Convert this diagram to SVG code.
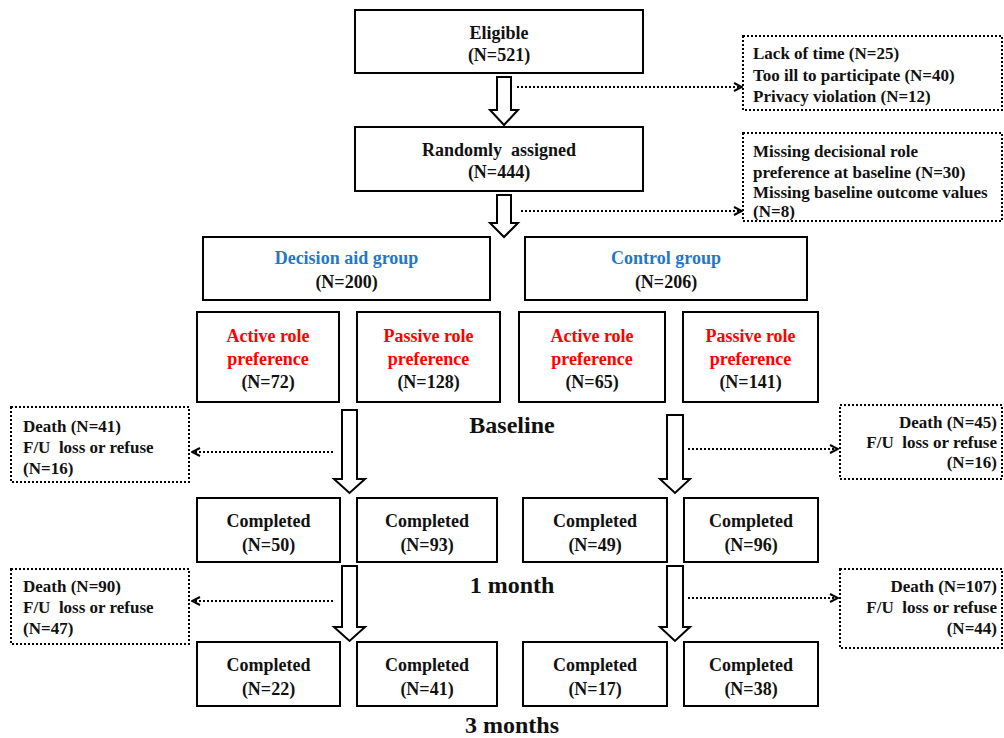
<svg xmlns="http://www.w3.org/2000/svg" width="1004" height="738" viewBox="0 0 1004 738">
<defs>
<style>
.box{fill:#fff;stroke:#000;stroke-width:2}
.dbox{fill:#fff;stroke:#000;stroke-width:2;stroke-dasharray:2 2}
.barrow{fill:#fff;stroke:#000;stroke-width:2;stroke-linejoin:miter}
.dline{fill:none;stroke:#000;stroke-width:2;stroke-dasharray:2 2}
text{font-family:"Liberation Serif","Times New Roman",serif;font-weight:bold;fill:#111}
.t18{font-size:18px;text-anchor:middle}
.t17{font-size:17px}
.big{font-size:24px;text-anchor:middle}
.blue{fill:#1f78c8}
.red{fill:#ff0000}
.end{text-anchor:end}
</style>
<marker id="chev" viewBox="0 0 10 10" refX="9" refY="5" markerWidth="10" markerHeight="10" markerUnits="userSpaceOnUse" orient="auto">
<path d="M1,1 L9,5 L1,9" fill="none" stroke="#000" stroke-width="2"/>
</marker>
</defs>
<rect width="1004" height="738" fill="#fff"/>

<g id="connectors">
<path class="barrow" d="M497,77 H511 V110 H518 L504,125 L490,110 H497 Z"/>
<path class="barrow" d="M497,195 H511 V223 H518 L504,237 L490,223 H497 Z"/>
<path class="barrow" d="M342,410 H357 V479 H365 L349.5,493 L334,479 H342 Z"/>
<path class="barrow" d="M667,415 H683 V479 H690 L675,493 L660,479 H667 Z"/>
<path class="barrow" d="M342,566 H357 V627 H365 L349.5,641 L334,627 H342 Z"/>
<path class="barrow" d="M667,566 H683 V627 H690 L675,641 L660,627 H667 Z"/>
<line class="dline" x1="517" y1="87" x2="742" y2="87" marker-end="url(#chev)"/>
<line class="dline" x1="521" y1="211" x2="742" y2="211" marker-end="url(#chev)"/>
<line class="dline" x1="333" y1="452" x2="192" y2="452" marker-end="url(#chev)"/>
<line class="dline" x1="333" y1="601" x2="192" y2="601" marker-end="url(#chev)"/>
<line class="dline" x1="688" y1="449" x2="838" y2="449" marker-end="url(#chev)"/>
<line class="dline" x1="688" y1="598" x2="838" y2="598" marker-end="url(#chev)"/>
</g>

<g id="eligible">
<rect class="box" x="355" y="10" width="288" height="63"/>
<text class="t18" x="499" y="39">Eligible</text>
<text class="t18" x="499" y="61">(N=521)</text>
</g>

<g id="randomized">
<rect class="box" x="355" y="127" width="288" height="64"/>
<text class="t18" x="499" y="156" xml:space="preserve">Randomly  assigned</text>
<text class="t18" x="499" y="178">(N=444)</text>
</g>

<g id="excluded1">
<rect class="dbox" x="743" y="36" width="259" height="74"/>
<text class="t17" x="753" y="59">Lack of time (N=25)</text>
<text class="t17" x="753" y="81">Too ill to participate (N=40)</text>
<text class="t17" x="753" y="102">Privacy violation (N=12)</text>
</g>

<g id="excluded2">
<rect class="dbox" x="743" y="133" width="259" height="88"/>
<text class="t17" x="753" y="157">Missing decisional role</text>
<text class="t17" x="753" y="178">preference at baseline (N=30)</text>
<text class="t17" x="753" y="198">Missing baseline outcome values</text>
<text class="t17" x="753" y="217">(N=8)</text>
</g>

<g id="decision-aid">
<rect class="box" x="203" y="237" width="287" height="63"/>
<text class="t18 blue" x="346.5" y="264">Decision aid group</text>
<text class="t18" x="346.5" y="288">(N=200)</text>
</g>

<g id="control">
<rect class="box" x="525" y="237" width="282" height="63"/>
<text class="t18 blue" x="666" y="264">Control group</text>
<text class="t18" x="666" y="288">(N=206)</text>
</g>

<g id="da-active">
<rect class="box" x="197" y="312" width="142" height="90"/>
<text class="t18 red" x="268" y="342">Active role</text>
<text class="t18 red" x="268" y="365">preference</text>
<text class="t18" x="268" y="388">(N=72)</text>
</g>

<g id="da-passive">
<rect class="box" x="357" y="312" width="143" height="90"/>
<text class="t18 red" x="428.5" y="342">Passive role</text>
<text class="t18 red" x="428.5" y="365">preference</text>
<text class="t18" x="428.5" y="388">(N=128)</text>
</g>

<g id="c-active">
<rect class="box" x="519" y="312" width="146" height="90"/>
<text class="t18 red" x="592" y="342">Active role</text>
<text class="t18 red" x="592" y="365">preference</text>
<text class="t18" x="592" y="388">(N=65)</text>
</g>

<g id="c-passive">
<rect class="box" x="683" y="312" width="135" height="90"/>
<text class="t18 red" x="750.5" y="342">Passive role</text>
<text class="t18 red" x="750.5" y="365">preference</text>
<text class="t18" x="750.5" y="388">(N=141)</text>
</g>

<g id="label-baseline"><text class="big" x="512" y="433">Baseline</text></g>

<g id="loss-da-1">
<rect class="dbox" x="11" y="407" width="178" height="75"/>
<text class="t17" x="23" y="432">Death (N=41)</text>
<text class="t17" x="23" y="453" xml:space="preserve">F/U  loss or refuse</text>
<text class="t17" x="23" y="474">(N=16)</text>
</g>

<g id="loss-c-1">
<rect class="dbox" x="840" y="405" width="162" height="74"/>
<text class="t17 end" x="997" y="428">Death (N=45)</text>
<text class="t17 end" x="997" y="448" xml:space="preserve">F/U  loss or refuse</text>
<text class="t17 end" x="997" y="468">(N=16)</text>
</g>

<g id="m1-da-active">
<rect class="box" x="197" y="498" width="143" height="64"/>
<text class="t18" x="268.5" y="527">Completed</text>
<text class="t18" x="268.5" y="551">(N=50)</text>
</g>
<g id="m1-da-passive">
<rect class="box" x="357" y="498" width="140" height="64"/>
<text class="t18" x="427" y="527">Completed</text>
<text class="t18" x="427" y="551">(N=93)</text>
</g>
<g id="m1-c-active">
<rect class="box" x="523" y="498" width="144" height="64"/>
<text class="t18" x="595" y="527">Completed</text>
<text class="t18" x="595" y="551">(N=49)</text>
</g>
<g id="m1-c-passive">
<rect class="box" x="684" y="498" width="134" height="64"/>
<text class="t18" x="751" y="527">Completed</text>
<text class="t18" x="751" y="551">(N=96)</text>
</g>

<g id="label-1month"><text class="big" x="512" y="593">1 month</text></g>

<g id="loss-da-2">
<rect class="dbox" x="11" y="569" width="178" height="75"/>
<text class="t17" x="23" y="592">Death (N=90)</text>
<text class="t17" x="23" y="613" xml:space="preserve">F/U  loss or refuse</text>
<text class="t17" x="23" y="634">(N=47)</text>
</g>

<g id="loss-c-2">
<rect class="dbox" x="840" y="569" width="162" height="79"/>
<text class="t17 end" x="997" y="592">Death (N=107)</text>
<text class="t17 end" x="997" y="613" xml:space="preserve">F/U  loss or refuse</text>
<text class="t17 end" x="997" y="634">(N=44)</text>
</g>

<g id="m3-da-active">
<rect class="box" x="197" y="642" width="143" height="64"/>
<text class="t18" x="268.5" y="671">Completed</text>
<text class="t18" x="268.5" y="695">(N=22)</text>
</g>
<g id="m3-da-passive">
<rect class="box" x="357" y="642" width="140" height="64"/>
<text class="t18" x="427" y="671">Completed</text>
<text class="t18" x="427" y="695">(N=41)</text>
</g>
<g id="m3-c-active">
<rect class="box" x="523" y="642" width="144" height="64"/>
<text class="t18" x="595" y="671">Completed</text>
<text class="t18" x="595" y="695">(N=17)</text>
</g>
<g id="m3-c-passive">
<rect class="box" x="684" y="642" width="134" height="64"/>
<text class="t18" x="751" y="671">Completed</text>
<text class="t18" x="751" y="695">(N=38)</text>
</g>

<g id="label-3months"><text class="big" x="512" y="733">3 months</text></g>
</svg>
